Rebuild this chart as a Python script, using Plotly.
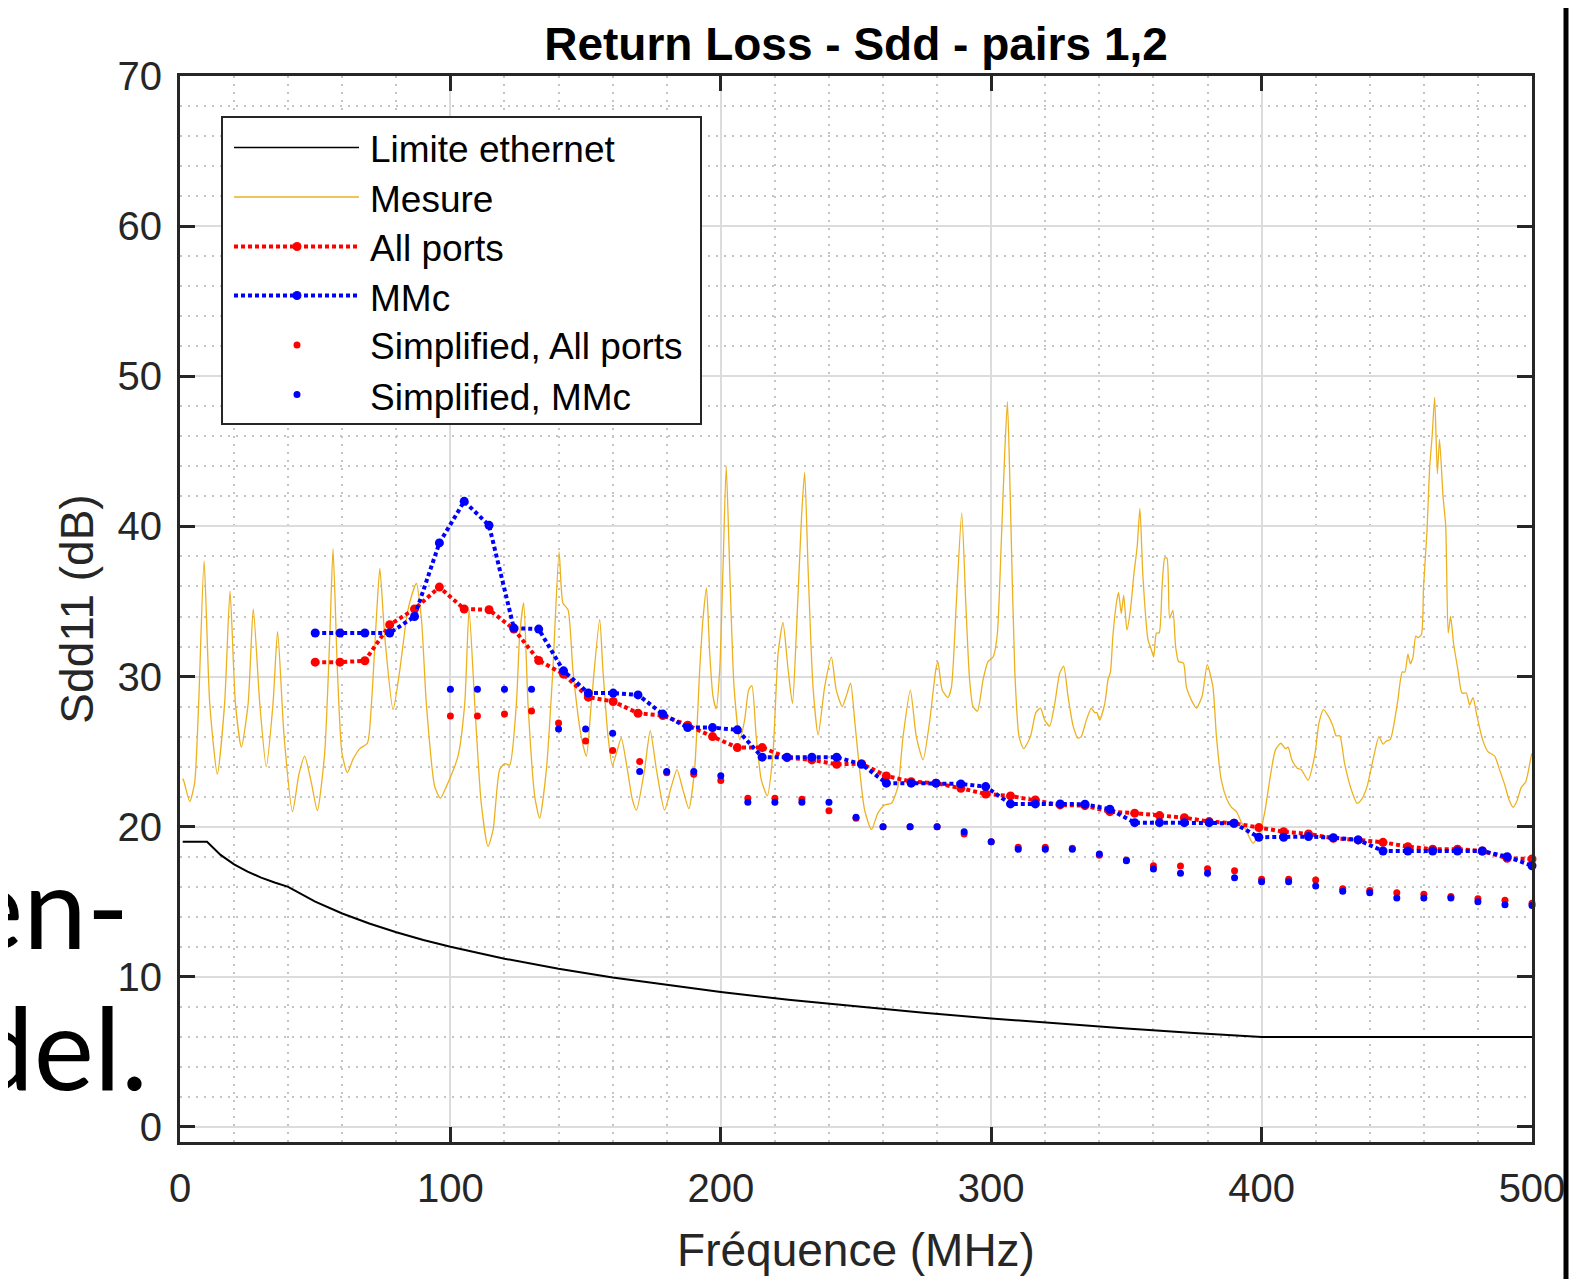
import plotly.graph_objects as go

# ---------------- data ----------------
lim_f = [1, 10, 15, 20, 25, 30, 35, 40, 50, 60, 70, 80, 90, 100, 120, 140, 160, 180, 200,
         225, 250, 275, 300, 325, 350, 375, 400, 500]
lim_db = [19.0, 19.0, 18.12, 17.49, 17.01, 16.61, 16.28, 15.99, 15.01, 14.22, 13.55, 12.97, 12.46,
          12.0, 11.21, 10.54, 9.96, 9.45, 8.99, 8.48, 8.02, 7.61, 7.23, 6.88, 6.56, 6.26, 6.0, 6.0]

mes_f = [1.0, 1.5, 3.6, 5.4, 6.9, 8.9, 11.0, 13.8, 16.5, 18.5, 20.5, 22.7, 25.2, 27.1, 29.5, 31.9,
         34.4, 36.1, 38.5, 41.6, 44.0, 46.1, 48.5, 50.8, 53.5, 55.4, 56.6, 58.2, 59.9, 61.9, 64.0,
         66.5, 69.3, 70.8, 72.6, 73.9, 75.7, 78.8, 81.3, 83.7, 84.9, 87.4, 89.3, 91.1, 94.2, 96.3,
         98.5, 102.8, 105.3, 106.9, 109.0, 111.4, 113.9, 115.8, 118.2, 120.1, 121.9, 124.4, 125.6,
         127.1, 128.7, 131.2, 133.0, 135.5, 137.9, 140.2, 141.6, 143.5, 145.3, 148.4, 150.3, 152.1,
         155.2, 156.4, 158.3, 159.9, 161.4, 163.2, 165.1, 167.3, 168.8, 171.8, 173.9, 176.2, 179.2,
         181.7, 183.8, 186.0, 188.2, 190.3, 192.2, 193.4, 194.7, 195.9, 197.1, 198.3, 199.6, 200.8,
         202.0, 203.3, 204.9, 207.0, 208.8, 210.3, 211.5, 213.1, 215.0, 217.2, 219.3, 221.2, 223.0,
         224.9, 226.5, 227.9, 229.8, 231.0, 232.3, 234.1, 236.0, 238.4, 240.9, 242.7, 244.9, 246.4,
         248.0, 249.5, 250.7, 253.2, 255.7, 258.1, 260.6, 263.1, 265.5, 267.4, 270.1, 272.3, 274.8,
         277.3, 279.5, 280.3, 281.9, 284.0, 285.3, 287.1, 289.1, 290.6, 292.0, 293.3, 294.9, 297.0,
         298.8, 300.7, 302.2, 303.8, 305.0, 306.0, 307.1, 308.7, 310.3, 312.0, 314.5, 316.5, 318.2,
         319.8, 321.6, 323.5, 325.3, 326.8, 328.4, 330.3, 332.1, 333.3, 335.2, 337.0, 338.3, 339.1,
         340.1, 342.0, 343.2, 344.1, 345.0, 346.3, 347.1, 348.1, 349.0, 350.2, 351.5, 352.7, 354.0,
         355.0, 356.1, 358.0, 359.2, 360.1, 361.1, 362.1, 363.2, 364.2, 365.0, 366.0, 367.2, 368.2,
         369.3, 371.1, 372.2, 374.0, 375.9, 378.0, 379.9, 382.0, 383.3, 385.1, 387.0, 388.8, 390.7,
         392.5, 394.4, 396.8, 399.3, 401.1, 403.0, 405.1, 407.1, 408.8, 409.8, 411.2, 413.2, 414.7,
         417.2, 419.6, 421.2, 422.9, 424.9, 426.4, 427.6, 428.9, 430.7, 433.2, 435.3, 436.9, 439.0,
         441.2, 443.4, 444.9, 446.1, 447.6, 449.2, 450.4, 452.0, 453.0, 454.1, 455.0, 456.0, 457.0,
         457.8, 459.1, 459.9, 461.2, 462.1, 463.1, 464.0, 465.0, 465.8, 467.1, 468.1, 469.0, 469.9,
         471.0, 472.6, 474.1, 475.7, 476.9, 478.2, 479.4, 480.6, 481.9, 483.7, 486.2, 488.0, 489.9,
         491.5, 493.0, 494.4, 496.0, 497.7, 499.7, 500.0]
mes_db = [23.2, 23.0, 21.67, 22.9, 28.2, 37.7, 28.2, 23.5, 28.2, 35.7, 28.2, 25.3, 28.2, 34.5, 28.2,
          24.0, 28.2, 33.0, 26.0, 21.0, 23.5, 24.7, 23.0, 21.07, 24.9, 32.7, 38.5, 30.45, 24.9, 23.6,
          24.5, 25.2, 25.56, 28.2, 33.8, 37.2, 32.7, 27.8, 30.45, 33.8, 34.9, 36.2, 33.8, 28.2, 22.67,
          21.9, 22.67, 24.7, 28.2, 34.45, 28.2, 21.56, 18.67, 19.8, 23.8, 24.2, 24.1, 28.2, 32.7,
          34.9, 28.2, 22.0, 20.56, 23.8, 30.45, 38.3, 34.9, 34.45, 30.45, 26.0, 24.7, 28.2, 33.8,
          30.45, 26.0, 24.1, 24.9, 25.9, 24.2, 21.8, 21.1, 23.8, 26.4, 23.8, 21.1, 22.67, 23.8,
          22.45, 21.2, 23.8, 30.45, 33.8, 35.9, 31.56, 28.7, 27.85, 30.45, 37.1, 44.0, 37.1, 29.3,
          25.8, 27.1, 29.1, 29.4, 26.0, 23.1, 22.05, 24.9, 31.56, 33.6, 30.45, 28.2, 32.7, 40.45,
          43.6, 37.1, 29.3, 26.1, 29.3, 31.3, 29.1, 28.0, 28.7, 29.56, 27.1, 24.9, 21.1, 19.8, 20.9,
          21.45, 21.56, 22.67, 26.0, 29.1, 26.0, 24.45, 27.1, 30.45, 31.0, 29.1, 28.6, 29.3, 34.9,
          40.9, 34.9, 29.8, 28.0, 27.7, 29.8, 31.0, 31.3, 32.7, 39.3, 44.9, 48.3, 41.6, 30.45, 26.0,
          25.2, 26.0, 27.6, 27.9, 27.1, 26.7, 28.2, 30.2, 30.7, 28.7, 26.7, 25.9, 26.0, 27.1, 27.9,
          27.6, 27.6, 27.1, 28.2, 29.8, 30.3, 32.7, 34.9, 35.6, 34.2, 35.4, 33.1, 34.45, 36.7, 38.7,
          41.2, 36.7, 32.45, 31.8, 31.3, 32.9, 32.9, 36.0, 37.9, 37.9, 33.9, 34.4, 32.0, 31.0, 30.9,
          29.3, 28.45, 27.9, 28.7, 30.8, 29.3, 26.0, 23.1, 21.9, 21.3, 21.0, 20.3, 19.7, 18.9, 19.56,
          20.9, 23.1, 25.1, 25.56, 25.2, 25.3, 24.45, 23.9, 23.8, 23.1, 24.7, 26.9, 27.8, 27.3, 26.7,
          26.05, 26.05, 24.2, 22.45, 21.56, 21.8, 22.67, 24.45, 26.0, 25.5, 25.7, 25.8, 27.1, 28.45,
          30.3, 30.3, 31.5, 30.85, 31.3, 32.7, 32.6, 32.8, 36.0, 39.8, 43.8, 46.1, 48.6, 43.5, 45.8,
          42.0, 40.0, 32.9, 34.0, 32.2, 30.45, 28.9, 28.9, 28.1, 28.6, 27.6, 26.6, 25.7, 25.0, 24.7,
          23.8, 22.8, 21.8, 21.3, 21.7, 22.6, 23.0, 24.7, 24.9]

model_f = [50.0, 59.18, 68.37, 77.55, 86.73, 95.92, 105.10, 114.29, 123.47, 132.65, 141.84, 151.02,
           160.20, 169.39, 178.57, 187.76, 196.94, 206.12, 215.31, 224.49, 233.67, 242.86, 252.04,
           261.22, 270.41, 279.59, 288.78, 297.96, 307.14, 316.33, 325.51, 334.69, 343.88, 353.06,
           362.24, 371.43, 380.61, 389.80, 398.98, 408.16, 417.35, 426.53, 435.71, 444.90, 454.08,
           463.27, 472.45, 481.63, 490.82, 500.0]
allports_db = [30.96, 30.96, 31.05, 33.45, 34.5, 35.96, 34.5, 34.45, 33.16, 31.07, 30.16, 28.63,
               28.34, 27.56, 27.4, 26.76, 26.0, 25.27, 25.27, 24.6, 24.45, 24.16, 24.2, 23.38, 23.0,
               22.9, 22.56, 22.18, 22.05, 21.78, 21.45, 21.4, 21.0, 20.9, 20.74, 20.6, 20.34, 20.23,
               19.94, 19.67, 19.52, 19.23, 19.12, 18.96, 18.67, 18.5, 18.5, 18.38, 17.9, 17.85]
mmc_db = [32.9, 32.9, 32.9, 32.9, 34.0, 38.9, 41.67, 40.07, 33.23, 33.16, 30.38, 28.9, 28.9, 28.78,
          27.5, 26.6, 26.6, 26.45, 24.63, 24.63, 24.63, 24.63, 24.16, 22.9, 22.9, 22.9, 22.85,
          22.67, 21.52, 21.52, 21.52, 21.5, 21.16, 20.27, 20.27, 20.27, 20.27, 20.23, 19.3, 19.3,
          19.34, 19.27, 19.12, 18.38, 18.38, 18.38, 18.38, 18.38, 18.0, 17.4]

simp_f = [100, 110, 120, 130, 140, 150, 160, 170, 180, 190, 200, 210, 220, 230, 240, 250, 260, 270,
          280, 290, 300, 310, 320, 330, 340, 350, 360, 370, 380, 390, 400, 410, 420, 430, 440, 450,
          460, 470, 480, 490, 500]
simp_all_db = [27.38, 27.38, 27.5, 27.7, 26.9, 25.7, 25.07, 24.34, 23.6, 23.5, 23.07, 21.9, 21.9,
               21.83, 21.07, 20.56, 20.0, 20.0, 20.0, 19.52, 19.0, 18.63, 18.63, 18.56, 18.1, 17.78,
               17.4, 17.38, 17.2, 17.07, 16.5, 16.5, 16.45, 15.87, 15.75, 15.6, 15.5, 15.35, 15.2,
               15.1, 14.9]
simp_mmc_db = [29.16, 29.16, 29.16, 29.16, 26.5, 26.5, 26.23, 23.67, 23.67, 23.67, 23.4, 21.63,
               21.63, 21.63, 21.63, 20.63, 20.0, 20.0, 20.0, 19.67, 19.0, 18.5, 18.5, 18.5, 18.18,
               17.74, 17.18, 16.9, 16.9, 16.6, 16.34, 16.34, 16.05, 15.7, 15.6, 15.25, 15.25, 15.25,
               15.0, 14.8, 14.75]

x_ticks = [0, 100, 200, 300, 400, 500]
y_ticks = [0, 10, 20, 30, 40, 50, 60, 70]

legend_labels = ["Limite ethernet", "Mesure", "All ports", "MMc",
                 "Simplified, All ports", "Simplified, MMc"]
title_text = "Return Loss - Sdd - pairs 1,2"
x_title = "Fréquence (MHz)"
y_title = "Sdd11 (dB)"
slide_texts = ["en-", "del."]

# ---------------- styling ----------------
PAGE_W, PAGE_H = 1596, 1279
OFF = 8                      # default body margin of the html page
W, H = PAGE_W - OFF, PAGE_H - OFF
L, R, T, B = 180, 1532, 76, 1142   # plot area, page pixels
AX = "#262626"
ORANGE = "#EDB120"
RED = "#FF0000"
BLUE = "#0000FF"
FONT = "Liberation Sans"
DOT = "4px,3px"


def px(X):
    return (X - L) / (R - L)


def py(Y):
    return (B - Y) / (B - T)


fig = go.Figure()
fig.add_trace(go.Scatter(x=lim_f, y=lim_db, mode="lines", name=legend_labels[0],
                         line=dict(color="black", width=2)))
fig.add_trace(go.Scatter(x=mes_f, y=mes_db, mode="lines", name=legend_labels[1],
                         line=dict(color=ORANGE, width=1.3, shape="spline", smoothing=0.6)))
fig.add_trace(go.Scatter(x=model_f, y=allports_db, mode="lines+markers", name=legend_labels[2],
                         line=dict(color=RED, width=4, dash=DOT),
                         marker=dict(color=RED, size=9), cliponaxis=False))
fig.add_trace(go.Scatter(x=model_f, y=mmc_db, mode="lines+markers", name=legend_labels[3],
                         line=dict(color=BLUE, width=4, dash=DOT),
                         marker=dict(color=BLUE, size=9), cliponaxis=False))
fig.add_trace(go.Scatter(x=simp_f, y=simp_all_db, mode="markers", name=legend_labels[4],
                         marker=dict(color=RED, size=7), cliponaxis=False))
fig.add_trace(go.Scatter(x=simp_f, y=simp_mmc_db, mode="markers", name=legend_labels[5],
                         marker=dict(color=BLUE, size=7), cliponaxis=False))

axis_common = dict(
    ticks="inside", ticklen=15, tickwidth=3, tickcolor=AX,
    showline=True, linewidth=3, linecolor=AX, mirror="ticks",
    showgrid=True, gridcolor="#dcdcdc", gridwidth=2, zeroline=False,
    tickfont=dict(family=FONT, size=40, color=AX),
    title_font=dict(family=FONT, size=46, color=AX),
)

fig.update_xaxes(range=[0, 500], tickmode="array", tickvals=x_ticks,
                 ticktext=[str(v) for v in x_ticks], ticklabelstandoff=9,
                 minor=dict(dtick=20, tick0=0, showgrid=True, gridcolor="#c4c4c4",
                            griddash="2px,6px", gridwidth=1.5, ticks=""),
                 title=dict(text=x_title, standoff=25), **axis_common)
fig.update_yaxes(range=[-1, 70], tickmode="array", tickvals=y_ticks,
                 ticktext=[str(v) for v in y_ticks], ticklabelstandoff=7,
                 minor=dict(dtick=2, tick0=0, showgrid=True, gridcolor="#c4c4c4",
                            griddash="2px,6px", gridwidth=1.5, ticks=""),
                 title=dict(text=y_title, standoff=10), **axis_common)

shapes = []
annotations = []

# legend box (drawn by hand to match the original proportions)
shapes.append(dict(type="rect", xref="paper", yref="paper", layer="above",
                   x0=px(222), x1=px(701), y0=py(424), y1=py(117),
                   line=dict(color=AX, width=2), fillcolor="white"))
row_y = [147.5, 197, 246.5, 295.5, 345, 394.5]
text_y = [149.5, 199.5, 248.5, 298, 347, 397]
sample_styles = [
    dict(color="black", width=1.5, dash="solid", marker=None),
    dict(color=ORANGE, width=1.3, dash="solid", marker=None),
    dict(color=RED, width=4, dash=DOT, marker=9),
    dict(color=BLUE, width=4, dash=DOT, marker=9),
    dict(color=RED, width=0, dash=None, marker=7),
    dict(color=BLUE, width=0, dash=None, marker=7),
]
for i, st in enumerate(sample_styles):
    yy = row_y[i]
    if st["width"] > 0:
        shapes.append(dict(type="line", xref="paper", yref="paper", layer="above",
                           x0=px(234), x1=px(359), y0=py(yy), y1=py(yy),
                           line=dict(color=st["color"], width=st["width"], dash=st["dash"])))
    if st["marker"]:
        r = st["marker"] / 2
        shapes.append(dict(type="circle", xref="paper", yref="paper", layer="above",
                           x0=px(297 - r), x1=px(297 + r), y0=py(yy + r), y1=py(yy - r),
                           line=dict(width=0), fillcolor=st["color"]))
    annotations.append(dict(text=legend_labels[i], xref="paper", yref="paper",
                            x=px(368), y=py(text_y[i]), xanchor="left", yanchor="middle",
                            showarrow=False, font=dict(family=FONT, size=37, color="black")))

# slide background elements visible around the chart
shapes.append(dict(type="rect", xref="paper", yref="paper", layer="above",
                   x0=px(1563.5), x1=px(1568.5), y0=py(PAGE_H + 5), y1=py(-5),
                   line=dict(width=0), fillcolor="black"))
annotations.append(dict(text=slide_texts[0], xref="paper", yref="paper",
                        x=px(131), y=py(904), xanchor="right", yanchor="middle",
                        showarrow=False, font=dict(family="Lato", size=114, color="black")))
annotations.append(dict(text=slide_texts[1], xref="paper", yref="paper",
                        x=px(150), y=py(1045), xanchor="right", yanchor="middle",
                        showarrow=False, font=dict(family="Lato", size=114, color="black")))

fig.update_layout(
    width=W, height=H,
    margin=dict(l=L - OFF, r=W - (R - OFF), t=T - OFF, b=H - (B - OFF)),
    paper_bgcolor="white", plot_bgcolor="white",
    showlegend=False,
    title=dict(text="<b>" + title_text + "</b>", x=0.5, xref="paper", xanchor="center",
               y=1 - (43.5 - OFF) / H, yref="container", yanchor="middle",
               font=dict(family=FONT, size=46, color="black")),
    shapes=shapes, annotations=annotations,
)

fig.write_html("out.html")
